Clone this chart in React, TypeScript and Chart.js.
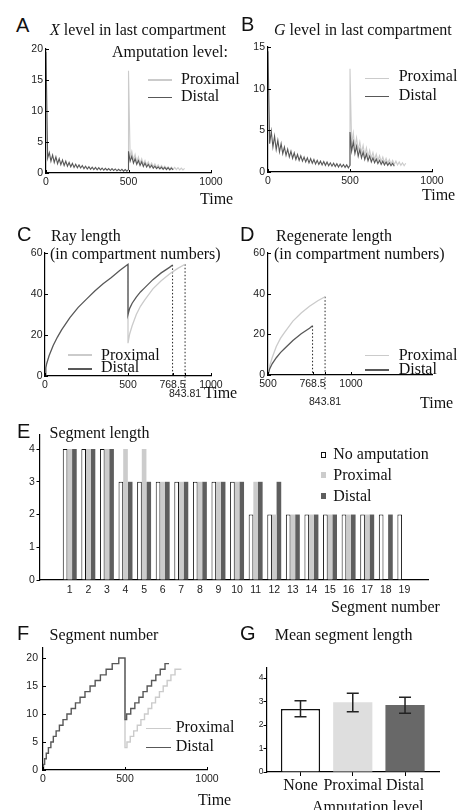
import React, { useEffect, useRef } from 'react';
import { Chart, registerables } from 'chart.js';

Chart.register(...registerables);

// ---------------- DATA ----------------
// Panels A & B: sampled oscillating levels, one sample every SAW_STEP time units
const SAW_STEP = 10;
// X level, t = 0..500 (before amputation, shared by both)
const xLevelPre = [
  19.5, 2.4, 3.3, 1.9, 2.9, 1.7, 2.6, 1.5, 2.3, 1.35,
  2.1, 1.2, 1.9, 1.1, 1.7, 1.0, 1.55, 0.9, 1.4, 0.85,
  1.3, 0.8, 1.2, 0.7, 1.1, 0.65, 1.0, 0.6, 0.95, 0.55,
  0.9, 0.5, 0.85, 0.5, 0.8, 0.45, 0.75, 0.45, 0.7, 0.4,
  0.7, 0.4, 0.65, 0.35, 0.6, 0.35, 0.6, 0.3, 0.55, 0.3,
  0.55,
];
const xLevelProxSpike = 16.5;
// t = 510..840
const xLevelProxPost = [
  2.5, 3.5, 2.1, 3.0, 1.8, 2.6, 1.6, 2.3, 1.4, 2.0,
  1.25, 1.8, 1.1, 1.6, 1.0, 1.45, 0.9, 1.3, 0.8, 1.2,
  0.75, 1.1, 0.7, 1.0, 0.65, 0.95, 0.6, 0.9, 0.55, 0.85,
  0.5, 0.8, 0.5, 0.75,
];
const xLevelDistSpike = 3.5;
// t = 510..770
const xLevelDistPost = [
  1.9, 2.7, 1.6, 2.3, 1.4, 2.0, 1.2, 1.8, 1.05, 1.6,
  0.95, 1.4, 0.85, 1.25, 0.75, 1.1, 0.7, 1.0, 0.65, 0.95,
  0.6, 0.9, 0.55, 0.85, 0.5, 0.8, 0.5,
];
// G level
const gLevelPre = [
  14.5, 3.4, 4.9, 3.0, 4.3, 2.7, 3.8, 2.4, 3.4, 2.2,
  3.0, 2.0, 2.75, 1.8, 2.5, 1.65, 2.3, 1.5, 2.1, 1.4,
  1.95, 1.3, 1.8, 1.2, 1.7, 1.1, 1.6, 1.05, 1.5, 0.95,
  1.4, 0.9, 1.3, 0.85, 1.25, 0.8, 1.2, 0.75, 1.1, 0.7,
  1.05, 0.65, 1.0, 0.6, 0.95, 0.6, 0.9, 0.55, 0.85, 0.5,
  0.8,
];
const gLevelProxSpike = 12.4;
const gLevelProxPost = [
  3.3, 4.7, 2.9, 4.1, 2.6, 3.6, 2.3, 3.2, 2.0, 2.9,
  1.8, 2.6, 1.65, 2.35, 1.5, 2.15, 1.35, 1.95, 1.25, 1.8,
  1.15, 1.65, 1.05, 1.5, 0.95, 1.4, 0.9, 1.3, 0.85, 1.2,
  0.8, 1.1, 0.75, 1.05,
];
const gLevelDistSpike = 4.8;
const gLevelDistPost = [
  2.5, 3.6, 2.2, 3.1, 1.9, 2.7, 1.7, 2.4, 1.5, 2.15,
  1.35, 1.9, 1.2, 1.7, 1.1, 1.55, 1.0, 1.4, 0.9, 1.3,
  0.85, 1.2, 0.8, 1.1, 0.75, 1.05, 0.7,
];

// Panel C: ray length
const rayPreTime = [0, 5, 10, 25, 50, 75, 100, 150, 200, 250, 300, 350, 400, 450, 500];
const rayPreLen = [0, 4, 6, 10, 15, 19, 22.5, 28.5, 33.5, 37.5, 41.5, 45, 48, 51.5, 54.5];
const rayDistTime = [500, 510, 525, 550, 575, 600, 650, 700, 750, 768.5];
const rayDistLen = [30, 33, 35.5, 38.5, 41, 43, 47, 50.3, 53, 54.2];
const rayProxTime = [500, 510, 525, 550, 575, 600, 650, 700, 750, 768.5, 800, 843.81];
const rayProxLen = [16, 20.5, 24.5, 30, 34, 37, 42.5, 46.5, 49.8, 50.8, 52.5, 54.5];

// Panel D: regenerate length
const regDistTime = [500, 510, 525, 550, 575, 600, 650, 700, 750, 768.5];
const regDistLen = [0, 3, 5.5, 8.5, 11, 13, 17, 20.3, 23, 24.2];
const regProxTime = [500, 510, 525, 550, 575, 600, 650, 700, 750, 768.5, 800, 843.81];
const regProxLen = [0, 4.5, 8.5, 14, 18, 21, 26.5, 30.5, 33.8, 34.8, 36.5, 38.5];

// Panel E: segment lengths
const segNumbers = [1, 2, 3, 4, 5, 6, 7, 8, 9, 10, 11, 12, 13, 14, 15, 16, 17, 18, 19];
const segLenNone = [4, 4, 4, 3, 3, 3, 3, 3, 3, 3, 2, 2, 2, 2, 2, 2, 2, 2, 2];
const segLenProx = [4, 4, 4, 4, 4, 3, 3, 3, 3, 3, 3, 2, 2, 2, 2, 2, 2, null, null];
const segLenDist = [4, 4, 4, 3, 3, 3, 3, 3, 3, 3, 3, 3, 2, 2, 2, 2, 2, 2, null];

// Panel F: segment number (staircases)
const segPreTime = [0, 3, 10, 20, 33, 48, 63, 80, 100, 122, 146, 172, 198, 226, 256, 287, 318, 350, 385, 422, 462, 500];
const segPreCount = [0, 1, 2, 3, 4, 5, 6, 7, 8, 9, 10, 11, 12, 13, 14, 15, 16, 17, 18, 19, 20, 20];
const segDistTime = [500, 510, 535, 560, 585, 610, 635, 662, 688, 715, 744, 768.5];
const segDistCount = [9, 10, 11, 12, 13, 14, 15, 16, 17, 18, 19, 19];
const segProxTime = [500, 512, 532, 553, 575, 597, 619, 641, 663, 686, 710, 733, 757, 780, 805, 843.81];
const segProxCount = [4, 5, 6, 7, 8, 9, 10, 11, 12, 13, 14, 15, 16, 17, 18, 18];

// Panel G: mean segment length
const ampGroups = ['None', 'Proximal', 'Distal'];
const meanSegLen = [2.68, 2.97, 2.85];
const meanSegLow = [2.35, 2.57, 2.5];
const meanSegHigh = [3.03, 3.35, 3.18];

// Tick values
const timeTicks = [0, 500, 1000];
const xLevelTicks = [0, 5, 10, 15, 20];
const gLevelTicks = [0, 5, 10, 15];
const lenTicks = [0, 20, 40, 60];
const rayTimeTicks = [0, 500, 768.5, 843.81, 1000];
const regTimeTicks = [500, 768.5, 843.81, 1000];
const segLenTicks = [0, 1, 2, 3, 4];
const segCountTicks = [0, 5, 10, 15, 20];
const meanTicks = [0, 1, 2, 3, 4];
const groupPos = [1, 2, 3];

// ---------------- STYLE ----------------
const SANS = '"Liberation Sans", Arial, Helvetica, sans-serif';
const SERIF = '"Liberation Serif", "Times New Roman", Times, serif';
const LIGHT = '#cbcbcb';
const DARK = '#585858';
const TXT = '#111';
const TICK_SIZE = 10.5;

type Box = { L: number; T: number; R: number; B: number };
const M = { l: 40, t: 12, r: 25, b: 40 };

const pts = (xs: number[], ys: (number | null)[]) => xs.map((x, i) => ({ x, y: ys[i] }));
const sawPts = (start: number, vals: number[]) => vals.map((v, i) => ({ x: start + i * SAW_STEP, y: v }));
const last = (a: number[]) => a[a.length - 1];

function linScale(min: number, max: number, vals: number[], pad: number, extra: any = {}) {
  return {
    type: 'linear',
    min,
    max,
    offset: false,
    afterBuildTicks: (s: any) => {
      s.ticks = vals.map((v) => ({ value: v }));
    },
    grid: { display: false, drawTicks: false, offset: false },
    border: { display: true, color: '#000', width: 1.2 },
    ticks: {
      font: { family: SANS, size: TICK_SIZE } as any,
      color: '#222',
      padding: pad,
      autoSkip: false,
      maxRotation: 0,
      minRotation: 0,
      callback: (v: any) => String(v) as any,
    },
    ...extra,
  };
}

function baseOptions(scales: any) {
  return {
    responsive: false,
    maintainAspectRatio: false,
    animation: false,
    devicePixelRatio: 1,
    events: [],
    plugins: { legend: { display: false }, tooltip: { enabled: false }, title: { display: false } },
    scales,
  };
}

function lineDs(data: any[], color: string, width = 1.1, extra: any = {}) {
  return {
    type: 'line',
    data,
    borderColor: color,
    backgroundColor: color,
    borderWidth: width,
    pointRadius: 0,
    fill: false,
    tension: 0,
    ...extra,
  };
}

const innerTicks = (len = 3) => ({
  id: 'innerTicks',
  afterDraw(chart: any) {
    const { ctx, chartArea } = chart;
    const xs = chart.scales.x;
    const ys = chart.scales.y;
    ctx.save();
    ctx.strokeStyle = '#000';
    ctx.lineWidth = 1;
    ctx.beginPath();
    xs.ticks.forEach((t: any) => {
      const p = Math.round(xs.getPixelForValue(t.value)) + 0.5;
      ctx.moveTo(p, chartArea.bottom);
      ctx.lineTo(p, chartArea.bottom - len);
    });
    ys.ticks.forEach((t: any) => {
      const p = Math.round(ys.getPixelForValue(t.value)) + 0.5;
      ctx.moveTo(chartArea.left, p);
      ctx.lineTo(chartArea.left + len, p);
    });
    ctx.stroke();
    ctx.restore();
  },
});

function ChartPanel({ box, make }: { box: Box; make: () => any }) {
  const ref = useRef<HTMLCanvasElement>(null);
  const w = box.R - box.L + M.l + M.r;
  const h = box.B - box.T + M.t + M.b;
  useEffect(() => {
    const cfg = make();
    cfg.options.layout = { padding: { left: 0, top: M.t, right: M.r, bottom: 0 } };
    cfg.options.scales.x.afterFit = (s: any) => {
      s.height = M.b;
    };
    cfg.options.scales.y.afterFit = (s: any) => {
      s.width = M.l;
    };
    const c = new Chart(ref.current as HTMLCanvasElement, cfg);
    return () => c.destroy();
  }, []);
  return (
    <canvas
      ref={ref}
      width={w}
      height={h}
      style={{ position: 'absolute', left: box.L - M.l, top: box.T - M.t, width: w, height: h }}
    />
  );
}

function Txt({ x, y, size = 16, serif = true, children }: any) {
  return (
    <div
      style={{
        position: 'absolute',
        left: x,
        top: y - 0.84 * size,
        fontSize: size,
        lineHeight: 1,
        fontFamily: serif ? SERIF : SANS,
        whiteSpace: 'nowrap',
        color: TXT,
      }}
    >
      {children}
    </div>
  );
}

function LegLine({ x1, x2, y, color }: any) {
  return (
    <div style={{ position: 'absolute', left: x1, top: y - 0.7, width: x2 - x1, height: 1.4, background: color }} />
  );
}

function LegSq({ x, y, color, border }: any) {
  return (
    <div
      style={{
        position: 'absolute',
        left: x,
        top: y - 2.8,
        width: 5.6,
        height: 5.6,
        boxSizing: 'border-box',
        background: color,
        border: border ? '1px solid #111' : 'none',
      }}
    />
  );
}

// ---------------- CHART CONFIGS ----------------
const makeA = () => ({
  type: 'line',
  data: {
    datasets: [
      lineDs([...sawPts(0, xLevelPre), { x: 500, y: xLevelDistSpike }, ...sawPts(510, xLevelDistPost)], DARK),
      lineDs([{ x: 500, y: last(xLevelPre) }, { x: 500, y: xLevelProxSpike }, ...sawPts(510, xLevelProxPost)], LIGHT),
    ],
  },
  options: baseOptions({ x: linScale(0, 1000, timeTicks, 2.7), y: linScale(0, 20, xLevelTicks, 3) }),
  plugins: [innerTicks()],
});

const makeB = () => ({
  type: 'line',
  data: {
    datasets: [
      lineDs([...sawPts(0, gLevelPre), { x: 500, y: gLevelDistSpike }, ...sawPts(510, gLevelDistPost)], DARK),
      lineDs([{ x: 500, y: last(gLevelPre) }, { x: 500, y: gLevelProxSpike }, ...sawPts(510, gLevelProxPost)], LIGHT),
    ],
  },
  options: baseOptions({ x: linScale(0, 1000, timeTicks, 2.5), y: linScale(0, 15, gLevelTicks, 3) }),
  plugins: [innerTicks()],
});

const dotted = (data: any[]) =>
  lineDs(data, '#222', 1, { borderDash: [1.5, 2], clip: false });

const lowerLabel = (v: any) => (v === 843.81 ? ['', '843.81'] : String(v));

const makeC = () => {
  const x = linScale(0, 1000, rayTimeTicks, 4.7);
  x.ticks.font = { family: SANS, size: TICK_SIZE, lineHeight: 0.85 };
  x.ticks.callback = lowerLabel as any;
  return {
    type: 'line',
    data: {
      datasets: [
        lineDs([...pts(rayPreTime, rayPreLen), ...pts(rayDistTime, rayDistLen)], DARK, 1.3),
        lineDs([{ x: 500, y: last(rayPreLen) }, ...pts(rayProxTime, rayProxLen)], LIGHT, 1.3),
        dotted([{ x: last(rayDistTime), y: last(rayDistLen) }, { x: last(rayDistTime), y: 0 }]),
        dotted([{ x: last(rayProxTime), y: last(rayProxLen) }, { x: last(rayProxTime), y: -6 }]),
      ],
    },
    options: baseOptions({ x, y: linScale(0, 60, lenTicks, 2.5) }),
    plugins: [innerTicks()],
  };
};

const makeD = () => {
  const x = linScale(500, 1488, regTimeTicks, 0.7);
  x.ticks.font = { family: SANS, size: TICK_SIZE, lineHeight: 1.69 };
  x.ticks.callback = lowerLabel as any;
  return {
    type: 'line',
    data: {
      datasets: [
        lineDs(pts(regDistTime, regDistLen), DARK, 1.3),
        lineDs(pts(regProxTime, regProxLen), LIGHT, 1.3),
        dotted([{ x: last(regDistTime), y: last(regDistLen) }, { x: last(regDistTime), y: 0 }]),
        dotted([{ x: last(regProxTime), y: last(regProxLen) }, { x: last(regProxTime), y: -7.5 }]),
      ],
    },
    options: baseOptions({ x, y: linScale(0, 60, lenTicks, 3) }),
    plugins: [innerTicks()],
  };
};

const makeE = () => {
  const x = linScale(-0.6, 20.27, segNumbers, 4);
  const y = linScale(0, 4.43, segLenTicks, 1.7, {
    grid: { display: true, drawOnChartArea: false, drawTicks: true, tickLength: 3.5, color: '#000', lineWidth: 1 },
  });
  const bar = (data: any[], bg: string, bc: string, bw: number) => ({
    type: 'bar',
    data,
    backgroundColor: bg,
    borderColor: bc,
    borderWidth: bw,
    categoryPercentage: 0.75,
    barPercentage: 1,
  });
  return {
    type: 'bar',
    data: {
      datasets: [
        bar(pts(segNumbers, segLenNone), '#ffffff', '#111', 1),
        bar(pts(segNumbers, segLenProx), '#cccccc', '#cccccc', 0),
        bar(pts(segNumbers, segLenDist), '#5e5e5e', '#5e5e5e', 0),
      ],
    },
    options: baseOptions({ x, y }),
  };
};

const makeF = () => ({
  type: 'line',
  data: {
    datasets: [
      lineDs([...pts(segPreTime, segPreCount), ...pts(segDistTime, segDistCount)], DARK, 1.4, { stepped: 'before' }),
      lineDs([{ x: 500, y: last(segPreCount) }, ...pts(segProxTime, segProxCount)], LIGHT, 1.4, { stepped: 'before' }),
    ],
  },
  options: baseOptions({ x: linScale(0, 1000, timeTicks, 3.2), y: linScale(0, 21.8, segCountTicks, 5) }),
  plugins: [innerTicks()],
});

const makeG = () => {
  const x = linScale(0.359, 3.65, groupPos, 0, {
    grid: { display: true, drawOnChartArea: false, drawTicks: true, tickLength: 4, color: '#000', lineWidth: 1, offset: false },
  });
  x.ticks.font = { family: SERIF, size: 16 };
  x.ticks.color = TXT;
  x.ticks.callback = ((v: any) => ampGroups[groupPos.indexOf(v)]) as any;
  const y = linScale(0, 4.43, meanTicks, 0, {
    grid: { display: true, drawOnChartArea: false, drawTicks: true, tickLength: 3.5, color: '#000', lineWidth: 1 },
  });
  y.ticks.font = { family: SANS, size: 8.5 };
  return {
    type: 'bar',
    data: {
      datasets: [
        {
          type: 'bar',
          data: pts(groupPos, meanSegLen),
          backgroundColor: ['#ffffff', '#dedede', '#686868'],
          borderColor: ['#111', '#dedede', '#686868'],
          borderWidth: [1.5, 0, 0],
          categoryPercentage: 0.75,
          barPercentage: 1,
        },
      ],
    },
    options: baseOptions({ x, y }),
    plugins: [
      {
        id: 'errorBars',
        afterDatasetsDraw(chart: any) {
          const xs = chart.scales.x;
          const ys = chart.scales.y;
          const ctx = chart.ctx;
          ctx.save();
          ctx.strokeStyle = '#222';
          ctx.lineWidth = 1.5;
          groupPos.forEach((g, i) => {
            const px = xs.getPixelForValue(g);
            const lo = ys.getPixelForValue(meanSegLow[i]);
            const hi = ys.getPixelForValue(meanSegHigh[i]);
            ctx.beginPath();
            ctx.moveTo(px, lo);
            ctx.lineTo(px, hi);
            ctx.moveTo(px - 6, lo);
            ctx.lineTo(px + 6, lo);
            ctx.moveTo(px - 6, hi);
            ctx.lineTo(px + 6, hi);
            ctx.stroke();
          });
          ctx.restore();
        },
      },
    ],
  };
};

// ---------------- APP ----------------
export default function App() {
  return (
    <div
      style={{
        position: 'absolute',
        left: 0,
        top: 0,
        width: 464,
        height: 810,
        overflow: 'hidden',
        background: '#fff',
      }}
    >
      <ChartPanel box={{ L: 46, T: 49, R: 211, B: 173 }} make={makeA} />
      <ChartPanel box={{ L: 268, T: 47, R: 432, B: 172 }} make={makeB} />
      <ChartPanel box={{ L: 45, T: 253, R: 211, B: 376 }} make={makeC} />
      <ChartPanel box={{ L: 268, T: 253, R: 432, B: 375 }} make={makeD} />
      <ChartPanel box={{ L: 40, T: 435, R: 428, B: 580 }} make={makeE} />
      <ChartPanel box={{ L: 43, T: 648, R: 207, B: 770 }} make={makeF} />
      <ChartPanel box={{ L: 267, T: 668, R: 439, B: 772 }} make={makeG} />

      {/* panel letters */}
      <Txt x={16} y={32} size={20} serif={false}>A</Txt>
      <Txt x={241} y={31} size={20} serif={false}>B</Txt>
      <Txt x={17} y={241} size={20} serif={false}>C</Txt>
      <Txt x={240} y={241} size={20} serif={false}>D</Txt>
      <Txt x={17} y={438} size={20} serif={false}>E</Txt>
      <Txt x={17} y={640} size={20} serif={false}>F</Txt>
      <Txt x={240} y={640} size={20} serif={false}>G</Txt>

      {/* titles */}
      <Txt x={50} y={35}><i>X</i> level in last compartment</Txt>
      <Txt x={274} y={35}><i>G</i> level in last compartment</Txt>
      <Txt x={51} y={241.7}>Ray length</Txt>
      <Txt x={50} y={259}>(in compartment numbers)</Txt>
      <Txt x={276} y={241.7}>Regenerate length</Txt>
      <Txt x={274} y={259}>(in compartment numbers)</Txt>
      <Txt x={49.5} y={438.3}>Segment length</Txt>
      <Txt x={49.5} y={640.7}>Segment number</Txt>
      <Txt x={274.7} y={640.7}>Mean segment length</Txt>

      {/* axis titles */}
      <Txt x={200} y={204}>Time</Txt>
      <Txt x={422} y={200}>Time</Txt>
      <Txt x={204} y={398.5}>Time</Txt>
      <Txt x={420} y={408.5}>Time</Txt>
      <Txt x={331} y={612.7}>Segment number</Txt>
      <Txt x={198} y={805.5}>Time</Txt>
      <Txt x={312} y={812.5}>Amputation level</Txt>

      {/* legend A */}
      <Txt x={112} y={57.3}>Amputation level:</Txt>
      <LegLine x1={148} x2={172} y={80} color={LIGHT} />
      <Txt x={181} y={84}>Proximal</Txt>
      <LegLine x1={148} x2={172} y={97.7} color={DARK} />
      <Txt x={181} y={101.7}>Distal</Txt>

      {/* legend B */}
      <LegLine x1={365} x2={389} y={78.3} color={LIGHT} />
      <Txt x={398.7} y={81.7}>Proximal</Txt>
      <LegLine x1={365} x2={389} y={96.7} color={DARK} />
      <Txt x={398.7} y={100}>Distal</Txt>

      {/* legend C */}
      <LegLine x1={68} x2={92} y={355} color={LIGHT} />
      <Txt x={101} y={360}>Proximal</Txt>
      <LegLine x1={68} x2={92} y={369} color={DARK} />
      <Txt x={101} y={372.7}>Distal</Txt>

      {/* legend D */}
      <LegLine x1={365} x2={389} y={355.7} color={LIGHT} />
      <Txt x={398.7} y={360}>Proximal</Txt>
      <LegLine x1={365} x2={389} y={370} color={DARK} />
      <Txt x={398.7} y={374}>Distal</Txt>

      {/* legend E */}
      <LegSq x={320.7} y={455} color="#ffffff" border />
      <Txt x={333.3} y={459.3}>No amputation</Txt>
      <LegSq x={320.7} y={475} color="#cccccc" />
      <Txt x={333.3} y={480}>Proximal</Txt>
      <LegSq x={320.7} y={496} color="#5e5e5e" />
      <Txt x={333.3} y={501}>Distal</Txt>

      {/* legend F */}
      <LegLine x1={146} x2={171} y={728.3} color={LIGHT} />
      <Txt x={175.7} y={732}>Proximal</Txt>
      <LegLine x1={146} x2={171} y={747.3} color={DARK} />
      <Txt x={175.7} y={751.7}>Distal</Txt>
    </div>
  );
}
